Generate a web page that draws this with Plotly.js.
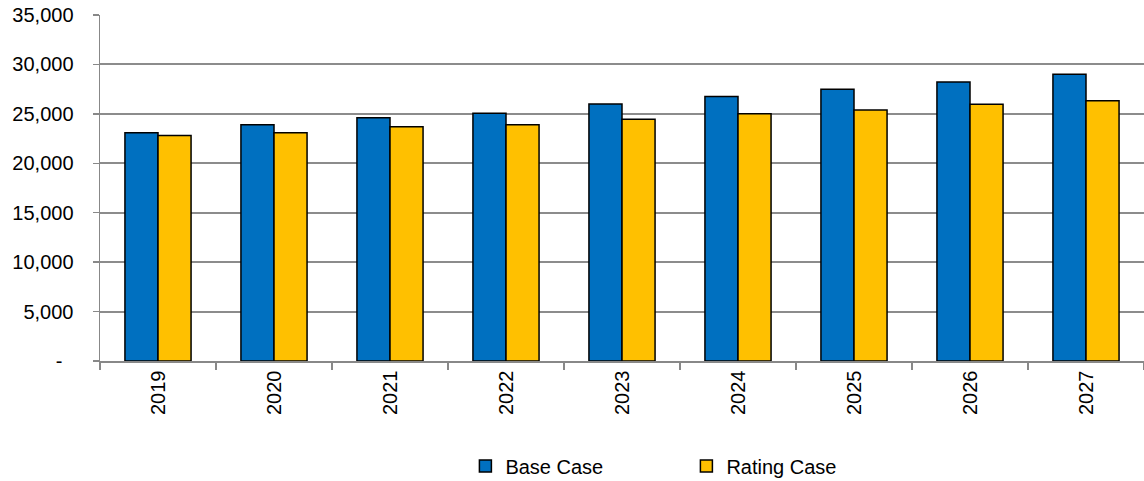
<!DOCTYPE html>
<html>
<head>
<meta charset="utf-8">
<script src="https://cdn.plot.ly/plotly-3.0.1.min.js"></script>
<style>html,body{margin:0;padding:0;background:#fff;}#chart{width:1144px;height:481px;}</style>
</head>
<body>
<div id="chart"></div>
<script>
var years = ['2019','2020','2021','2022','2023','2024','2025','2026','2027'];
var baseCase = [23100, 23900, 24600, 25050, 26000, 26750, 27480, 28230, 29000];
var ratingCase = [22800, 23100, 23700, 23900, 24450, 25020, 25400, 25970, 26330];
var yTickVals = [0, 5000, 10000, 15000, 20000, 25000, 30000, 35000];
var yTickText = ['-\u00a0\u00a0', '5,000', '10,000', '15,000', '20,000', '25,000', '30,000', '35,000'];

var font = {family: 'Liberation Sans, Arial, sans-serif', size: 20, color: '#000'};
var traces = [
  {type: 'bar', name: 'Base Case', x: years, y: baseCase,
   marker: {color: '#0070C0', line: {color: '#000', width: 1.5}}},
  {type: 'bar', name: 'Rating Case', x: years, y: ratingCase,
   marker: {color: '#FFC000', line: {color: '#000', width: 1.5}}}
];
var layout = {
  width: 1144, height: 481,
  margin: {l: 100, r: 0, t: 15, b: 120, autoexpand: false},
  paper_bgcolor: '#fff', plot_bgcolor: '#fff',
  font: font,
  barmode: 'group', bargap: 0.43, bargroupgap: 0,
  showlegend: true,
  legend: {orientation: 'h', xref: 'container', yref: 'container', x: 0.6, xanchor: 'center',
           y: 0.031, yanchor: 'middle', font: font, entrywidth: 176, itemwidth: 20},
  xaxis: {type: 'category', tickangle: -90, tickson: 'boundaries', ticks: 'outside', ticklen: 7,
          tickcolor: '#888', tickwidth: 1.5, showline: true, linecolor: '#888', linewidth: 1.5,
          showgrid: false, tickfont: font, range: [-0.5, 8.5]},
  yaxis: {range: [0, 35000], tickvals: yTickVals, ticktext: yTickText, ticks: 'outside', ticklen: 6,
          tickcolor: '#888', tickwidth: 1.5, showline: true, linecolor: '#888', linewidth: 1.5,
          showgrid: true, gridcolor: '#8c8c8c', gridwidth: 2, zeroline: false, tickfont: font,
          ticklabelstandoff: 15}
};
Plotly.newPlot('chart', traces, layout, {staticPlot: true, displayModeBar: false});
</script>
</body>
</html>
